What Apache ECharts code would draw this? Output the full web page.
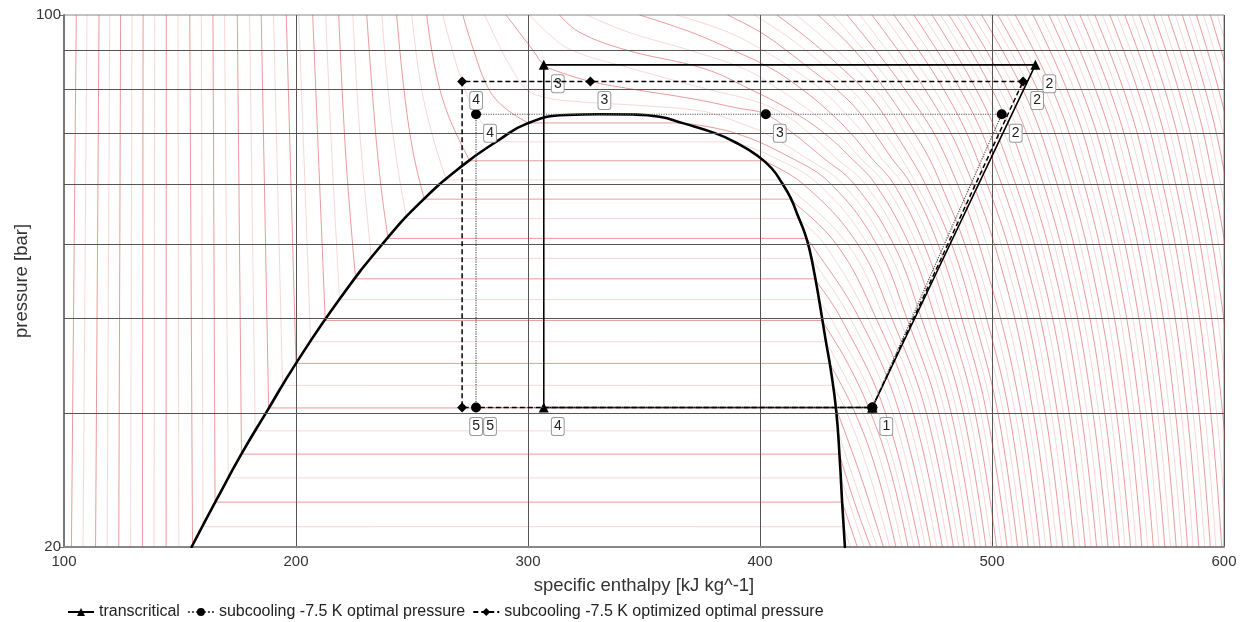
<!DOCTYPE html>
<html><head><meta charset="utf-8">
<script src="https://cdn.jsdelivr.net/npm/echarts@6/dist/echarts.min.js"></script>
<style>html,body{margin:0;padding:0;background:#fff}#chart{width:1245px;height:622px}</style>
</head><body><div id="chart"></div>
<script>
// ---------- axes ----------
const xMin = 100, xMax = 600, xStep = 100;
const yTickLabels = [20, 100];
const pressureGrid = [30, 40, 50, 60, 70, 80, 90];

// ---------- saturation dome [h, p] ----------
const saturationDome = [[155.0,20],[165.7,23.06],[176.5,26.5],[187.2,30.06],[200.0,34.86],[218.8,42.35],[237.5,50.12],[253.3,56.6],[272.0,63.5],[286.5,68.2],[300.0,72.1],[316.6,73.9],[331.0,74.06],
  [345.1,74.0],[356.7,73.5],[366.7,72.1],[380.9,69.9],[389.1,68.1],[399.0,65.3],[405.0,62.9],[409.4,60.2],[413.2,57.5],[416.2,54.6],[419.3,51.7],[421.4,49.1],[423.6,45.5],[425.5,42.2],[428.3,37.4],[430.5,34.2],[432.9,30.1],[434.4,26.0],[435.4,22.9],[436.6,20.0]];

// ---------- cycles ----------
const transcriticalName = 'transcritical';
const transcriticalPts = [[448.4,30.5],[518.7,86.0],[306.8,86.0],[306.8,30.5],[448.4,30.5]];
const transcriticalLabels = ['1','2','3','4',''];
const optimalName = 'subcooling -7.5 K optimal pressure';
const optimalPts = [[448.4,30.5],[504.2,74.06],[402.5,74.06],[277.6,74.06],[277.6,30.5],[448.4,30.5]];
const optimalLabels = ['','2','3','4','5',''];
const optimizedName = 'subcooling -7.5 K optimized optimal pressure';
const optimizedPts = [[448.4,30.5],[513.4,81.8],[326.9,81.8],[271.6,81.8],[271.6,30.5],[448.4,30.5]];
const optimizedLabels = ['','2','3','4','5',''];

// ---------- isotherms (°C) ----------
const coldLiquidT = [-45,-42.5,-40,-37.5,-35,-32.5,-30,-27.5,-25,-22.5,-20];
const coldLiquidTop = [105.3,109.9,115.1,119.7,124.4,129.3,134.1,139.1,144.1,149.1,154.2];
const coldLiquidBottom = [103.2,108.2,113.6,118.6,123.6,128.7,133.8,138.8,144.0,149.5,155.4];

const subcritT = [-17.5,-15,-12.5,-10,-7.5,-5,-2.5,0,2.5,5,7.5,10,12.5,15,17.5,20,22.5,25,27.5,30];
const subcritLiquid = [
  [[159.2,100]],[[164.2,100]],[[169.2,100]],[[174.7,100]],[[180.0,100]],[[185.0,100]],[[190.3,100]],[[195.8,100]],[[201.2,100]],[[207.2,100]],
  [[212.8,100],[215.5,65]],[[218.4,100],[221.5,65]],[[224.5,100],[227.5,70]],
  [[230.5,100],[233.5,75],[236.5,60]],[[237.0,100],[240.0,78],[243.5,64]],[[243.4,100],[246.5,80],[250.5,66]],
  [[249.9,100],[253.5,82],[258.5,70]],[[256.3,100],[260.0,85],[265.5,74]],
  [[263.2,100],[267.3,90],[271.6,81.8],[277.6,74.06]],[[271.9,100],[276.5,90],[283.0,80],[290.0,75.5]]];
const subcritSat = [[21.27,159.9,436.0],[22.91,165.1,435.4],[24.65,170.8,434.8],[26.49,176.5,434.2],[28.42,182.4,433.5],[30.46,188.2,432.7],[32.61,194.2,431.4],[34.85,200.0,430.0],[37.21,206.3,428.4],[39.69,212.6,426.6],
  [42.28,218.8,424.9],[45.02,225.7,423.4],[47.88,232.5,422.0],[50.87,239.7,419.5],[54.02,247.7,416.3],[57.29,255.3,412.7],[60.73,264.8,408.5],[64.34,274.9,401.4],[68.13,287.5,389.0],[72.14,300.1,366.5]];
const subcritVapor = [
  [[438.95,20]],[[441.95,20]],[[444.9,20]],[[440.5,23],[447.7,20]],[[441.5,24],[450.5,20]],[[443.0,25],[453.2,20]],
  [[437.45,30],[447.0,25],[455.9,20]],[[441.0,30],[450.5,25],[458.6,20]],[[444.45,30],[453.5,25],[461.2,20]],
  [[437.5,35],[447.75,30],[456.5,25],[463.8,20]],[[430.5,40],[450.95,30],[466.3,20]],[[434.8,40],[454.1,30],[468.8,20]],
  [[438.85,40],[457.2,30],[471.3,20]],[[422.1,50],[442.7,40],[460.2,30],[473.7,20]],[[427.7,50],[446.4,40],[463.15,30],[476.2,20]],
  [[432.9,50],[449.95,40],[466.05,30],[478.6,20]],[[411.0,60],[437.7,50],[453.4,40],[468.9,30],[481.0,20]],
  [[418.5,60],[442.15,50],[456.75,40],[471.7,30],[483.35,20]],[[406.0,65],[425.0,60],[446.35,50],[460.05,40],[474.4,30],[485.7,20]],
  [[389.0,70],[413.0,65],[430.5,60],[450.25,50],[463.25,40],[477.1,30],[488.1,20]]];

const superT = [32.5,35,37.5,40,42.5,45,47.5,50,52.5,55,57.5,60];
const superIsotherms = [
  [[281.3,100],[288.5,90],[293,85],[299,80],[307,78],[320,77],[350,76],[372,75],[381,74],[392,72],[401.7,70],[419.5,65],[435.5,60],[453.95,50],[466.4,40],[479.8,30],[490.4,20]],
  [[290.5,100],[302,90],[306.8,86],[312,84.5],[326.9,81.8],[344,80],[372,77.5],[390,75.5],[402.5,74.06],[414,70],[427,65],[440.5,60],[457.55,50],[469.5,40],[482.4,30],[492.75,20]],
  [[300.7,100],[308,95],[318.5,90],[345,85],[376.5,80],[398,77],[410.5,74],[421,70],[432.5,65],[445.2,60],[460.95,50],[472.5,40],[485,30],[495.1,20]],
  [[313.6,100],[322,95],[342,90],[376,85],[395.3,80],[413,75],[427.5,70],[439,65],[449.6,60],[464.25,50],[475.5,40],[487.6,30],[497.4,20]],
  [[325.3,100],[343,95],[369,90],[393,85],[407.8,80],[421,75],[433.3,70],[443,65],[453.7,60],[467.5,50],[478.4,40],[490.15,30],[499.7,20]],
  [[348.1,100],[370,95],[388,90],[405,85],[417.8,80],[429,75],[439,70],[447.8,65],[457.6,60],[470.65,50],[481.3,40],[492.7,30],[502.0,20]],
  [[364,100],[386,95],[401,90],[414,85],[426,80],[435.5,75],[444.3,70],[452,65],[461.3,60],[473.75,50],[484.1,40],[495.2,30],[504.2,20]],
  [[386,100],[400,95],[411,90],[421.5,85],[432.6,80],[442,75],[449.25,70],[456.5,65],[464.9,60],[476.75,50],[486.9,40],[497.7,30],[506.5,20]],
  [[397.5,100],[409,95],[419.4,90],[429,85],[438.8,80],[447,75],[453.85,70],[460.7,65],[467.3,60],[479.7,50],[489.6,40],[500.1,30],[508.8,20]],
  [[407.3,100],[417,95],[426.5,90],[435.5,85],[444.5,80],[452,75],[458.25,70],[464.8,65],[471.2,60],[482.6,50],[492.3,40],[502.55,30],[511.05,20]],
  [[415.5,100],[424.5,95],[433,90],[441.5,85],[449.5,80],[456.5,75],[462.45,70],[468.8,65],[474.8,60],[485.45,50],[495.0,40],[504.96,30],[513.3,20]],
  [[425,100],[440.5,90],[453.7,80],[466.45,70],[472.7,65],[477.9,60],[488.25,50],[497.6,40],[507.4,30],[515.6,20]]];

const hotP = [100,80,65,45,30,20];
const hotT = [62.5,65,67.5,70,72.5,75,77.5,80,82.5,85,87.5,90,92.5,95,97.5,100,102.5,105,107.5,110,112.5,115,117.5,120,122.5,125,127.5,130,132.5,135,137.5,140,142.5,145,147.5,150,152.5,155,157.5,160,162.5,165,167.5,170,172.5,175,177.5];
const hotH = [
  [431.5,458.0,476.5,495.8,510.0,518.25],[437.5,462.3,480.2,498.9,512.6,520.7],[443.0,466.6,483.75,502.0,515.2,523.15],[448.2,470.9,487.1,505.4,517.8,525.6],
  [453.1,474.95,490.3,508.2,520.4,528.0],[457.7,479.0,493.45,511.0,522.95,530.45],[462.1,482.65,496.7,513.9,525.6,533.0],[466.3,486.2,499.9,516.7,528.2,535.4],
  [470.3,489.6,503.0,519.45,530.7,537.8],[474.15,493.0,506.1,522.2,533.25,540.2],[477.85,496.5,509.3,525.05,535.9,542.7],[481.45,499.9,512.4,527.8,538.4,545.1],
  [484.95,503.15,515.4,530.45,540.9,547.5],[488.35,506.5,518.45,533.25,543.5,550.0],[491.65,509.75,521.4,535.9,546.0,552.4],[495.5,513.1,524.5,538.7,548.6,554.9],
  [499.0,516.4,527.5,541.4,551.15,557.35],[502.5,519.45,530.4,544.05,553.65,559.7],[506.2,522.7,533.4,546.8,556.2,562.15],[510.0,525.9,536.4,549.5,558.8,564.6],
  [513.8,529.0,539.35,552.2,561.3,567.1],[517.7,532.15,542.25,554.9,563.85,569.55],[521.2,535.3,545.2,557.6,566.4,572.0],[524.6,538.4,548.1,560.3,568.9,574.5],
  [527.9,541.45,551.0,563.0,571.45,576.95],[531.3,544.5,553.85,565.65,574.0,579.4],[534.6,547.55,556.7,568.3,576.55,581.85],[537.9,550.6,559.6,571.0,579.1,584.3],
  [541.1,553.6,562.4,573.6,581.6,586.7],[544.3,556.55,565.25,576.25,584.1,589.15],[547.6,559.6,568.2,579.0,586.7,591.7],[550.8,562.6,571.0,581.6,589.2,594.1],
  [553.9,565.5,573.75,584.2,591.7,596.5],[557.2,568.5,576.6,586.9,594.3,599.05],[560.3,571.4,579.35,589.5,596.8,601.5],[563.5,574.4,582.2,592.2,599.4,604.0],
  [566.6,577.3,584.95,594.8,601.9,606.4],[569.7,580.25,587.8,597.45,604.45,608.9],[572.8,583.1,590.55,600.0,606.95,611.3],[575.9,586.1,593.4,602.7,609.5,613.8],
  [579.0,589.0,596.2,605.4,612.0,616.0],[582.0,591.8,598.9,607.95,614.5,618.6],[585.0,594.7,601.7,610.6,617.0,621.0],[588.1,597.6,604.5,613.2,619.5,623.5],
  [591.1,600.5,607.25,615.8,622.0,626.0],[594.1,603.4,610.0,618.5,624.5,628.5],[597.1,606.2,612.7,621.1,627.0,631.0]];

// ---------- build ----------
const FONT = '"Liberation Sans", Arial, sans-serif';
const DARK = 'rgba(215,55,55,0.5)';
const LIGHT = 'rgba(215,55,55,0.2)';
const series = [];
function iso(T, pts, smooth) {
  series.push({
    type: 'line', data: pts, symbol: 'none', silent: true, z: 1, animation: false,
    smooth: smooth ? 0.4 : false,
    lineStyle: { width: 1, color: (T % 5 === 0) ? DARK : LIGHT },
    emphasis: { disabled: true }
  });
}
coldLiquidT.forEach((T, i) => iso(T, [[coldLiquidTop[i], 100], [coldLiquidBottom[i], 20]], false));
subcritT.forEach((T, i) => {
  const s = subcritSat[i];
  iso(T, subcritLiquid[i].concat([[s[1], s[0]]]), true);
  iso(T, [[s[1], s[0]], [s[2], s[0]]], false);
  iso(T, [[s[2], s[0]]].concat(subcritVapor[i]), true);
});
superT.forEach((T, i) => iso(T, superIsotherms[i], true));
hotT.forEach((T, i) => iso(T, hotP.map((p, j) => [hotH[i][j], p]), true));

series.push({
  type: 'line', data: [], silent: true, z: 3, animation: false,
  markLine: { silent: true, symbol: 'none', animation: false, label: { show: false },
    lineStyle: { color: '#555', width: 1, type: 'solid' },
    data: pressureGrid.map(p => ({ yAxis: p })) }
});

series.push({ type: 'line', data: saturationDome, symbol: 'none', silent: true, z: 4, smooth: 0.5, animation: false,
  lineStyle: { color: '#000', width: 2.6, cap: 'round', join: 'round' } });

const labelBase = { show: false, position: 'inside', offset: [14, 19], backgroundColor: '#fff', borderColor: '#999', borderWidth: 1,
  borderRadius: 2, padding: [2, 2, 1, 2], fontSize: 14, color: '#222', fontFamily: FONT };
function items(pts, labels) {
  return pts.map((pt, i) => ({ value: pt, label: labels[i] ? { show: true, formatter: labels[i] } : { show: false } }));
}
series.push({ name: transcriticalName, type: 'line', data: items(transcriticalPts, transcriticalLabels), z: 6, animation: false,
  symbol: 'triangle', symbolSize: 10, itemStyle: { color: '#000' }, lineStyle: { color: '#000', width: 1.6, type: 'solid' }, label: labelBase });
series.push({ name: optimalName, type: 'line', data: items(optimalPts, optimalLabels), z: 7, animation: false,
  symbol: 'circle', symbolSize: 10, itemStyle: { color: '#000' }, lineStyle: { color: '#555', width: 1.2, type: 'dotted' }, label: labelBase });
series.push({ name: optimizedName, type: 'line', data: items(optimizedPts, optimizedLabels), z: 8, animation: false,
  symbol: 'diamond', symbolSize: 10, itemStyle: { color: '#000' }, lineStyle: { color: '#000', width: 1.5, type: [5, 3] }, label: labelBase });

const chart = echarts.init(document.getElementById('chart'));
chart.setOption({
  animation: false,
  backgroundColor: '#fff',
  grid: { left: 64, right: 21, top: 15, bottom: 75, show: true, borderColor: '#888', borderWidth: 1, containLabel: false },
  legend: { data: [transcriticalName, optimalName, optimizedName], left: 62, top: 599, itemWidth: 26, itemHeight: 10, itemGap: 7,
    textStyle: { fontSize: 16, color: '#222', fontFamily: FONT }, selectedMode: false },
  xAxis: { type: 'value', min: xMin, max: xMax, interval: xStep,
    name: 'specific enthalpy [kJ kg^-1]', nameLocation: 'middle', nameGap: 29, nameMoveOverlap: false,
    nameTextStyle: { fontSize: 18.5, color: '#333', fontFamily: FONT },
    axisLine: { show: true, onZero: false, lineStyle: { color: '#888', width: 2 } },
    axisTick: { show: false },
    axisLabel: { fontSize: 15, color: '#333', margin: 7, fontFamily: FONT },
    splitLine: { show: true, lineStyle: { color: '#555', width: 1 } } },
  yAxis: { type: 'log', logBase: 10, min: 20, max: 100,
    name: 'pressure [bar]', nameLocation: 'middle', nameGap: 33, nameMoveOverlap: false,
    nameTextStyle: { fontSize: 18.5, color: '#333', fontFamily: FONT },
    axisLine: { show: true, onZero: false, lineStyle: { color: '#777', width: 2 } },
    axisTick: { show: true, length: 5, customValues: yTickLabels, lineStyle: { color: '#777' } },
    axisLabel: { customValues: yTickLabels, fontSize: 15, color: '#333', margin: 3, fontFamily: FONT },
    splitLine: { show: false }, minorTick: { show: false }, minorSplitLine: { show: false } },
  series: series
});
</script></body></html>
